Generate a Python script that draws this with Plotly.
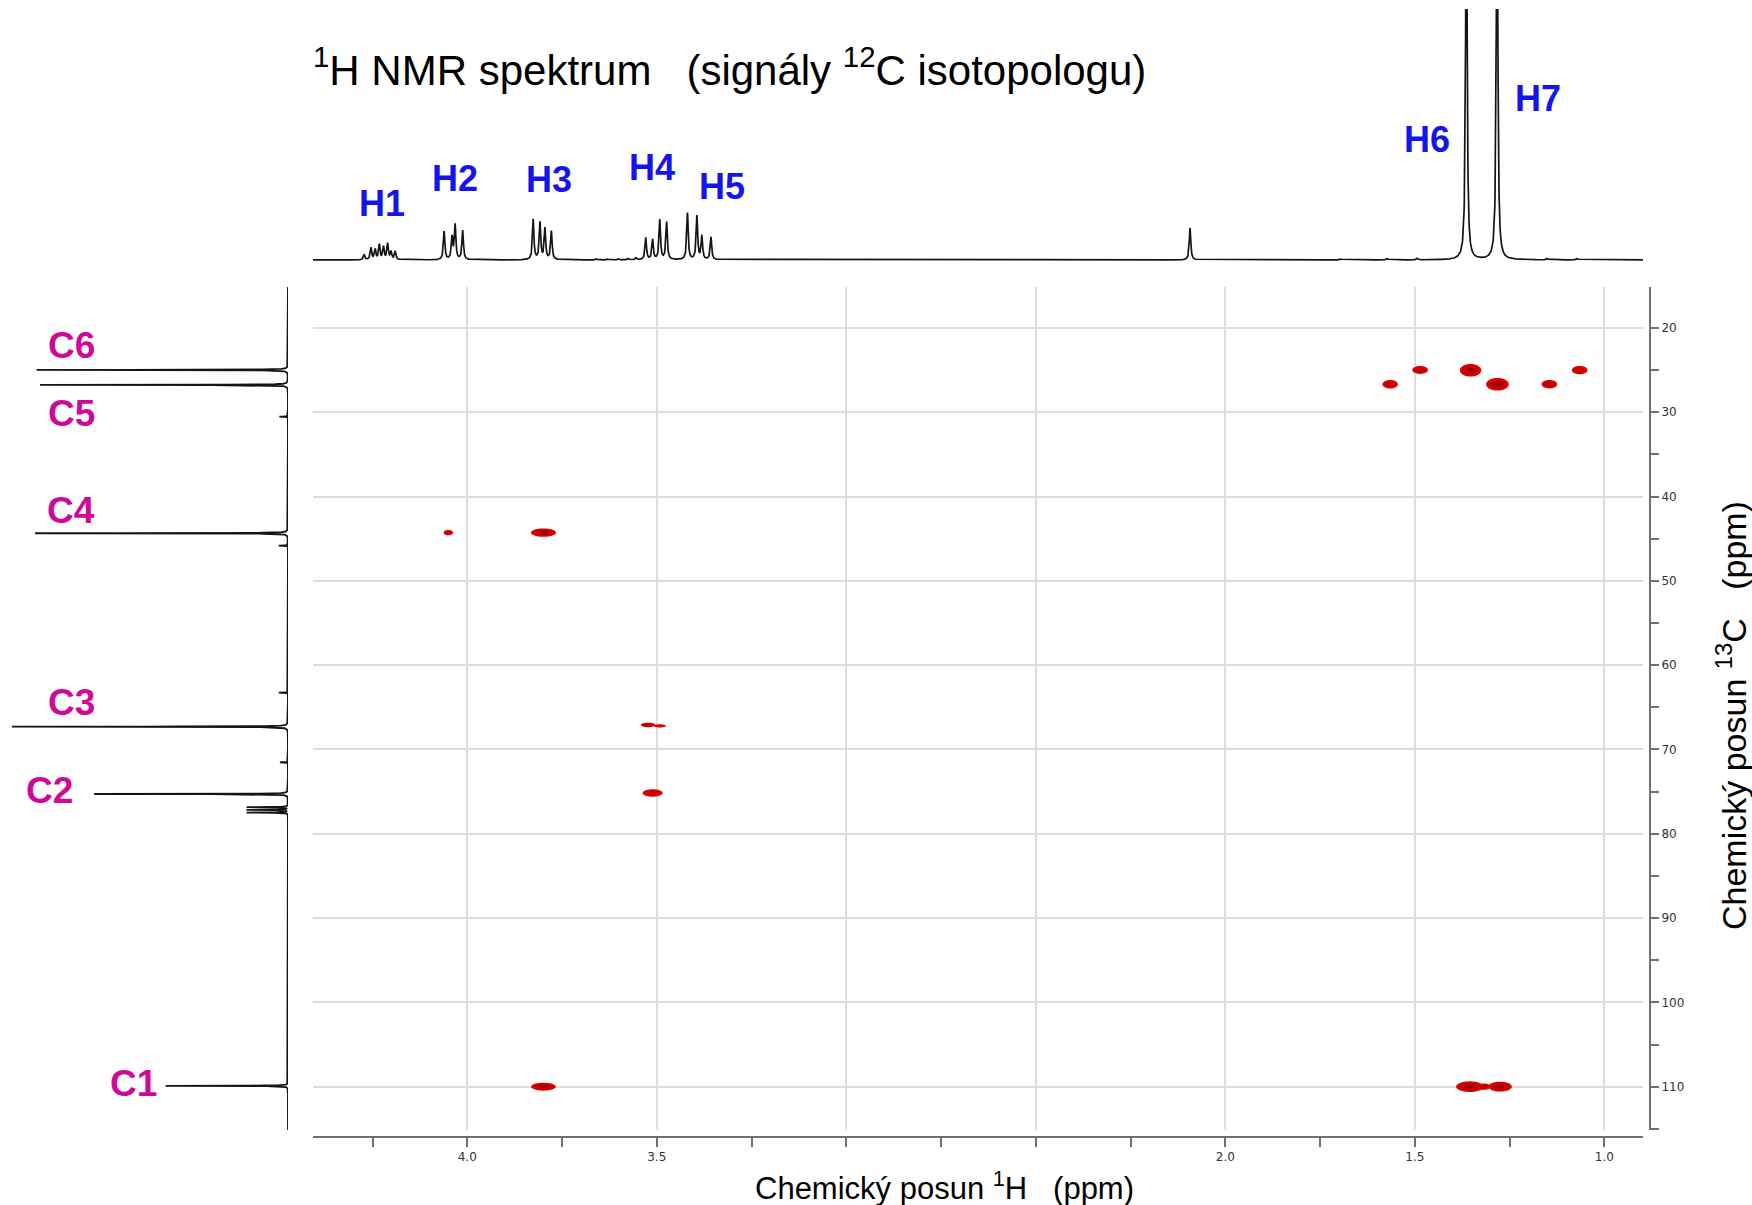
import numpy as np
import plotly.graph_objects as go

W, H = 1752, 1205

# ---------------- data ----------------
# 1H spectrum: peak positions (ppm) and relative heights
h1_ppm = [4.272, 4.254, 4.243, 4.232, 4.221, 4.210, 4.201, 4.190,
          4.061, 4.040, 4.032, 4.012,
          3.826, 3.808, 3.795, 3.778,
          3.660, 3.630, 3.600, 3.575, 3.555,
          3.529, 3.511, 3.492, 3.474,
          3.419, 3.394, 3.381, 3.357,
          2.093,
          1.696, 1.573, 1.494, 1.364, 1.283, 1.151, 1.072]
h1_int = [0.021, 0.047, 0.040, 0.060, 0.050, 0.064, 0.031, 0.033,
          0.113, 0.088, 0.137, 0.117,
          0.161, 0.147, 0.124, 0.114,
          0.005, 0.004, 0.005, 0.006, 0.008,
          0.088, 0.080, 0.159, 0.150,
          0.187, 0.174, 0.094, 0.090,
          0.128,
          0.004, 0.006, 0.006, 1.60, 1.70, 0.006, 0.006]
h1_fwhm = 0.0045

# 13C spectrum: peak positions (ppm) and relative intensities
c13_ppm = [24.98, 26.76, 30.52, 44.35, 45.82, 63.26, 67.30, 71.52,
           75.28, 76.84, 77.16, 77.48, 109.90]
c13_int = [0.873, 0.861, 0.030, 0.878, 0.032, 0.032, 0.959, 0.028,
           0.673, 0.143, 0.143, 0.143, 0.425]
c13_fwhm = 0.04

# HSQC cross peaks: 1H shift, 13C shift, amplitude, half extents (ppm)
hsqc_h = [4.050, 3.799, 3.523, 3.492, 3.511, 3.799, 1.355, 1.275, 1.317,
          1.565, 1.486, 1.353, 1.282, 1.145, 1.065]
hsqc_c = [44.28, 44.28, 67.09, 67.20, 75.16, 110.0, 110.0, 110.0, 110.0,
          26.68, 24.98, 25.02, 26.68, 26.67, 25.00]
hsqc_amp = [0.45, 1.0, 0.6, 0.3, 0.7, 0.9, 1.0, 1.0, 0.6,
            0.6, 0.6, 1.0, 1.0, 0.6, 0.6]
hsqc_wh = [0.0124, 0.033, 0.019, 0.016, 0.0264, 0.0325, 0.036, 0.031, 0.016,
           0.0203, 0.0206, 0.0282, 0.0298, 0.0206, 0.0206]
hsqc_wc = [0.32, 0.50, 0.27, 0.19, 0.44, 0.47, 0.63, 0.59, 0.38,
           0.51, 0.47, 0.75, 0.75, 0.50, 0.50]

x_tickvals = [4.0, 3.5, 3.0, 2.5, 2.0, 1.5, 1.0]
x_ticktext = ["4.0", "3.5", "", "", "2.0", "1.5", "1.0"]
x_minor = [4.25, 3.75, 3.25, 2.75, 2.25, 1.75, 1.25]
y_tickvals = [20, 30, 40, 50, 60, 70, 80, 90, 100, 110]
y_minor = [25, 35, 45, 55, 65, 75, 85, 95, 105, 115]

h_labels = ["H1", "H2", "H3", "H4", "H5", "H6", "H7"]
c_labels = ["C6", "C5", "C4", "C3", "C2", "C1"]

X_RANGE = [4.407, 0.898]
Y_RANGE = [115.14, 15.14]

def px(x):
    return x / W

def py(y):
    return 1 - y / H

fig = go.Figure()

# ---- top 1H spectrum ----
xs = np.union1d(np.arange(0.898, 4.4075, 0.0005), h1_ppm)
ys = np.zeros_like(xs)
for p, a in zip(h1_ppm, h1_int):
    ys += a / (1 + ((xs - p) / (h1_fwhm / 2)) ** 2)
fig.add_trace(go.Scatter(x=xs, y=ys, xaxis="x2", yaxis="y2", mode="lines",
                         line=dict(color="#141414", width=1.7),
                         hoverinfo="skip", showlegend=False))

# ---- left 13C spectrum ----
cs_ = np.union1d(np.arange(15.1, 115.2, 0.005), c13_ppm)
ci = np.zeros_like(cs_)
for p, a in zip(c13_ppm, c13_int):
    ci += a / (1 + ((cs_ - p) / (c13_fwhm / 2)) ** 2)
fig.add_trace(go.Scatter(x=ci, y=cs_, xaxis="x3", yaxis="y3", mode="lines",
                         line=dict(color="#141414", width=1.8),
                         hoverinfo="skip", showlegend=False))

# ---- HSQC cross peaks ----
thr = 0.1
cscale = [[0, "rgba(255,255,255,0)"], [0.1, "rgba(255,255,255,0)"],
          [0.2, "#dd0000"], [0.4, "#c80000"], [0.6, "#b40000"],
          [0.8, "#a40000"], [1.0, "#950000"]]
for hx, cy, amp, wh, wc in zip(hsqc_h, hsqc_c, hsqc_amp, hsqc_wh, hsqc_wc):
    k = np.sqrt(2 * np.log(amp / thr))
    sx, sy = wh / k, wc / k
    gx = np.linspace(hx - 3.3 * sx, hx + 3.3 * sx, 61)
    gy = np.linspace(cy - 3.3 * sy, cy + 3.3 * sy, 41)
    GX, GY = np.meshgrid(gx, gy)
    z = amp * np.exp(-((GX - hx) ** 2 / (2 * sx ** 2) + (GY - cy) ** 2 / (2 * sy ** 2)))
    fig.add_trace(go.Contour(x=gx, y=gy, z=z, xaxis="x", yaxis="y",
                             autocontour=False,
                             contours=dict(start=0.1, end=0.9, size=0.2,
                                           coloring="fill", showlines=False),
                             colorscale=cscale, showscale=False,
                             line=dict(width=0), hoverinfo="skip"))

tickfont = dict(family="DejaVu Sans", size=12, color="#333333")
axcol = "#707070"
gridcol = "#dcdcdc"

fig.update_layout(
    width=W, height=H, margin=dict(l=0, r=0, t=0, b=0),
    paper_bgcolor="white", plot_bgcolor="rgba(0,0,0,0)",
    showlegend=False,
    xaxis=dict(domain=[px(313), px(1643)], range=X_RANGE, autorange=False,
               anchor="free", position=py(1137),
               tickmode="array", tickvals=x_tickvals, ticktext=x_ticktext,
               ticks="outside", ticklen=9, tickwidth=1.5, tickcolor=axcol,
               showline=True, linecolor=axcol, linewidth=2,
               showgrid=True, gridcolor=gridcol, gridwidth=1.5, zeroline=False,
               minor=dict(tickmode="array", tickvals=x_minor, ticks="outside",
                          ticklen=9, tickwidth=1.5, tickcolor=axcol, showgrid=False),
               tickfont=tickfont),
    yaxis=dict(domain=[py(1130), py(287)], range=Y_RANGE, autorange=False,
               side="right", anchor="free", position=px(1650),
               tickmode="array", tickvals=y_tickvals,
               ticks="outside", ticklen=8, tickwidth=1.5, tickcolor=axcol,
               showline=True, linecolor=axcol, linewidth=2,
               showgrid=True, gridcolor=gridcol, gridwidth=1.5, zeroline=False,
               minor=dict(tickmode="array", tickvals=y_minor, ticks="outside",
                          ticklen=8, tickwidth=1.5, tickcolor=axcol, showgrid=False),
               tickfont=tickfont),
    xaxis2=dict(domain=[px(313), px(1643)], matches="x", anchor="y2",
                visible=False, showgrid=False, zeroline=False),
    yaxis2=dict(domain=[py(262), py(9)], range=[-0.008, 1.0], autorange=False,
                anchor="x2", visible=False, showgrid=False, zeroline=False),
    xaxis3=dict(domain=[0, px(288)], range=[1.0, 0.0], autorange=False,
                anchor="y3", visible=False, showgrid=False, zeroline=False),
    yaxis3=dict(domain=[py(1130), py(287)], matches="y", anchor="x3",
                visible=False, showgrid=False, zeroline=False),
)

ann = []
FONT = "Liberation Sans, Arial, sans-serif"
# title
ann.append(dict(text="<sup>1</sup>H NMR spektrum\u00a0\u00a0\u00a0(signály <sup>12</sup>C isotopologu)",
                x=px(311), y=py(66.5), xref="paper", yref="paper",
                xanchor="left", yanchor="middle", showarrow=False,
                font=dict(family=FONT, size=42, color="#000000")))
# axis titles
ann.append(dict(text="Chemický posun <sup>1</sup>H\u00a0\u00a0\u00a0(ppm)",
                x=px(944), y=py(1186), xref="paper", yref="paper",
                xanchor="center", yanchor="middle", showarrow=False,
                font=dict(family=FONT, size=31, color="#000000")))
ann.append(dict(text="Chemický posun <sup>13</sup>C\u00a0\u00a0\u00a0(ppm)",
                x=px(1731), y=py(716), xref="paper", yref="paper", textangle=-90,
                xanchor="center", yanchor="middle", showarrow=False,
                font=dict(family=FONT, size=34, color="#000000")))
# H labels
h_pos = [(382, 203), (455, 178), (549, 179), (652, 168), (722, 186), (1427, 139), (1538, 98)]
for t, (lx, ly) in zip(h_labels, h_pos):
    ann.append(dict(text="<b>%s</b>" % t, x=px(lx), y=py(ly), xref="paper", yref="paper",
                    xanchor="center", yanchor="middle", showarrow=False,
                    font=dict(family=FONT, size=36, color="#1414ee")))
# C labels
c_pos = [(71, 345), (71, 413), (71, 510), (71, 702), (49, 790), (133, 1083)]
for t, (lx, ly) in zip(c_labels, c_pos):
    ann.append(dict(text="<b>%s</b>" % t, x=px(lx), y=py(ly), xref="paper", yref="paper",
                    xanchor="center", yanchor="middle", showarrow=False,
                    font=dict(family=FONT, size=37, color="#d0089a")))
fig.update_layout(annotations=ann)

fig.write_html("out.html", config={"displayModeBar": False},
               post_script="document.body.style.margin='0';document.body.style.overflow='hidden';")
